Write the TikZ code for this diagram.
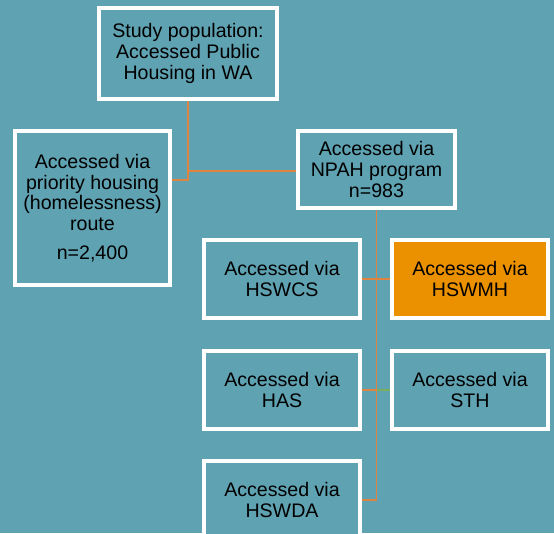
\documentclass[tikz,border=0pt]{standalone}
\usepackage{fontspec}
\setmainfont{Liberation Sans}
\usetikzlibrary{positioning}
\definecolor{bgteal}{HTML}{5FA2B2}
\definecolor{linkorange}{HTML}{DE8440}
\definecolor{boxorange}{HTML}{EB9100}
\definecolor{linkgreen}{HTML}{7BB05A}
\tikzstyle{stage}=[rectangle, draw=white, line width=4pt, fill=bgteal, text=black, align=center, font=\fontsize{19.6}{20.6}\selectfont, minimum width=156pt, minimum height=78pt, inner sep=1pt]
\tikzstyle{link}=[linkorange, line width=1.3pt]

\begin{document}
\begin{tikzpicture}[x=1pt, y=-1pt, node distance=28pt]
                \fill[bgteal] (0,0) rectangle (554,533);
                \useasboundingbox (0,0) rectangle (554,533);
                % Noeuds
                \node[stage, minimum width=178pt, minimum height=91pt] (study) at (188,53.5) {Study population:\\Accessed Public\\Housing in WA};
                \node[stage, minimum width=155pt, minimum height=154pt] (priority) at (92.5,208) {Accessed via\\priority housing\\(homelessness)\\route\\[8pt]n=2,400};
                \node[stage, minimum width=157pt, minimum height=77pt] (npah) at (376.5,169.5) {Accessed via\\NPAH program\\n=983};
                \node[stage] (hswcs) at (282,279) {Accessed via\\HSWCS};
                \node[stage, fill=boxorange, right=of hswcs] (hswmh) {Accessed via\\HSWMH};
                \node[stage, below=29pt of hswcs] (has) {Accessed via\\HAS};
                \node[stage, below=29pt of hswmh] (sth) {Accessed via\\STH};
                \node[stage, below=of has] (hswda) {Accessed via\\HSWDA};

                % Liens
                \coordinate (split) at (study.south |- 0,171);
                \draw[link] (study.south) |- (priority.east |- 0,180);
                \draw[link] (split) -- (npah.west |- split);
                \draw[link] (npah.south) |- (hswda.east);
                \draw[link] (hswcs.east) -- (hswmh.west);
                \draw[link] (has.east) -- (npah.south |- has.east);
                \draw[link, linkgreen] (npah.south |- sth.west) -- (sth.west);
            \end{tikzpicture}
\end{document}
